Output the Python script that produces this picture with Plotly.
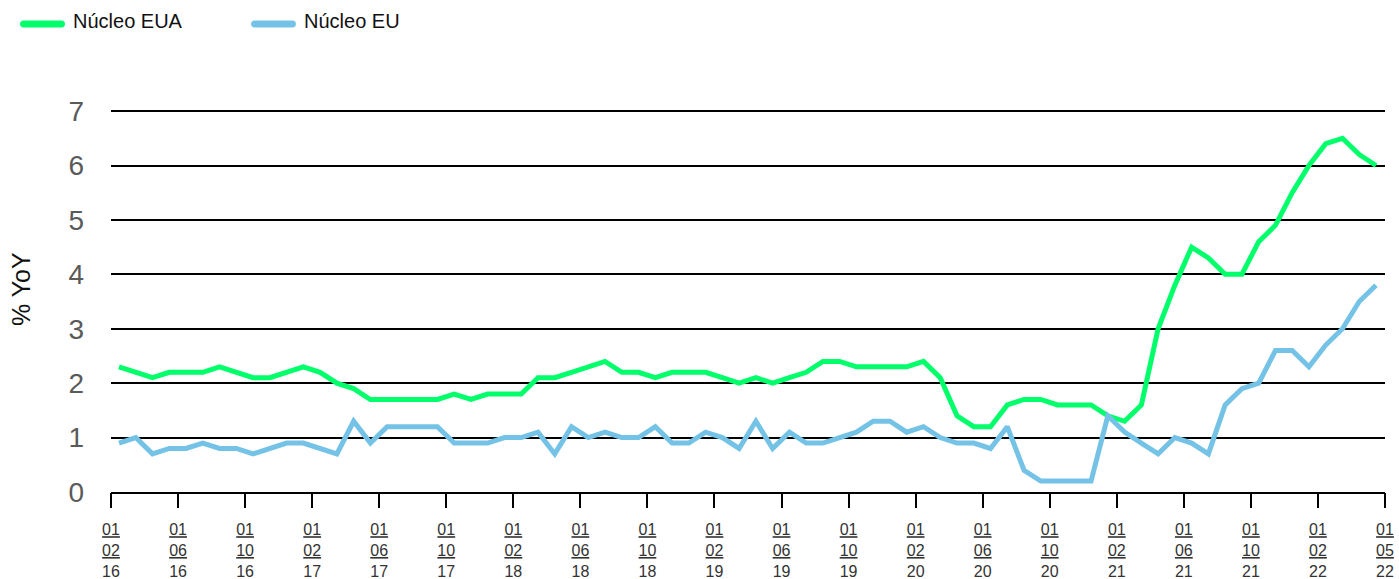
import pandas as pd
import plotly.graph_objects as go

# ---- data -------------------------------------------------------------
months = pd.date_range("2016-02-01", periods=76, freq="MS").strftime("%Y-%m").tolist()

nucleo_eua = [
    2.3, 2.2, 2.1, 2.2, 2.2, 2.2, 2.3, 2.2, 2.1, 2.1, 2.2, 2.3, 2.2,
    2.0, 1.9, 1.7, 1.7, 1.7, 1.7, 1.7, 1.8, 1.7, 1.8, 1.8, 1.8,
    2.1, 2.1, 2.2, 2.3, 2.4, 2.2, 2.2, 2.1, 2.2, 2.2, 2.2, 2.1,
    2.0, 2.1, 2.0, 2.1, 2.2, 2.4, 2.4, 2.3, 2.3, 2.3, 2.3, 2.4,
    2.1, 1.4, 1.2, 1.2, 1.6, 1.7, 1.7, 1.6, 1.6, 1.6, 1.4, 1.3, 1.6,
    3.0, 3.8, 4.5, 4.3, 4.0, 4.0, 4.6, 4.9, 5.5, 6.0, 6.4, 6.5, 6.2, 6.0,
]

nucleo_eu = [
    0.9, 1.0, 0.7, 0.8, 0.8, 0.9, 0.8, 0.8, 0.7, 0.8, 0.9, 0.9, 0.8,
    0.7, 1.3, 0.9, 1.2, 1.2, 1.2, 1.2, 0.9, 0.9, 0.9, 1.0, 1.0,
    1.1, 0.7, 1.2, 1.0, 1.1, 1.0, 1.0, 1.2, 0.9, 0.9, 1.1, 1.0,
    0.8, 1.3, 0.8, 1.1, 0.9, 0.9, 1.0, 1.1, 1.3, 1.3, 1.1, 1.2,
    1.0, 0.9, 0.9, 0.8, 1.2, 0.4, 0.2, 0.2, 0.2, 0.2, 1.4, 1.1, 0.9,
    0.7, 1.0, 0.9, 0.7, 1.6, 1.9, 2.0, 2.6, 2.6, 2.3, 2.7, 3.0, 3.5, 3.8,
]

tick_labels = [
    "01/02/16", "01/06/16", "01/10/16",
    "01/02/17", "01/06/17", "01/10/17",
    "01/02/18", "01/06/18", "01/10/18",
    "01/02/19", "01/06/19", "01/10/19",
    "01/02/20", "01/06/20", "01/10/20",
    "01/02/21", "01/06/21", "01/10/21",
    "01/02/22", "01/05/22",
]

y_ticks = [0, 1, 2, 3, 4, 5, 6, 7]

series_names = ["Núcleo EUA", "Núcleo EU"]
series_colors = ["#00ff6a", "#74c3e7"]

# ---- layout geometry (pixels) ----------------------------------------
W, H = 1399, 579
L, R = 111, 1385
T, B = 110, 492
pw, ph = R - L, B - T


def px_x(p):
    return (p - L) / pw


def px_y(p):
    return (B - p) / ph


fig = go.Figure()
for name, vals, col in zip(series_names, [nucleo_eua, nucleo_eu], series_colors):
    fig.add_trace(go.Scatter(
        x=months, y=vals, mode="lines", name=name,
        line=dict(color=col, width=5, shape="linear"),
        showlegend=False,
        hovertemplate="%{x}: %{y}<extra>" + name + "</extra>",
    ))

# empty trace that only hosts the overlaid tick axis
fig.add_trace(go.Scatter(x=[], y=[], xaxis="x2", yaxis="y",
                         showlegend=False, hoverinfo="skip"))

fmt_ticks = []
for t in tick_labels:
    d, m, y = t.split("/")
    fmt_ticks.append(f"<u>{d}</u><br><u>{m}</u><br>{y}")

fig.update_layout(
    width=W, height=H,
    margin=dict(l=L, r=W - R, t=T, b=H - B, autoexpand=False),
    paper_bgcolor="white", plot_bgcolor="white",
    showlegend=False,
    xaxis=dict(
        type="category",
        range=[-0.477, 75.537],
        showgrid=False, zeroline=False,
        showticklabels=False, ticks="",
        showline=True, linecolor="black", linewidth=2,
        automargin=False,
    ),
    xaxis2=dict(
        overlaying="x", anchor="y", side="bottom",
        type="linear",
        range=[0, len(tick_labels) - 1],
        tickmode="array",
        tickvals=list(range(len(tick_labels))),
        ticktext=fmt_ticks,
        ticks="outside", ticklen=15, tickwidth=2, tickcolor="black",
        showgrid=False, zeroline=False, showline=False,
        tickfont=dict(family="Liberation Sans", size=16, color="#333333"),
        tickangle=0,
        ticklabelstandoff=8,
        automargin=False,
    ),
    yaxis=dict(
        range=[0, 7.02],
        tickmode="array", tickvals=y_ticks,
        showgrid=True, gridcolor="black", gridwidth=1.5,
        zeroline=False, showline=False, ticks="",
        ticklabelstandoff=26,
        tickfont=dict(family="Liberation Sans", size=28, color="#5a5a5a"),
        automargin=False,
    ),
)

# y-axis title
fig.add_annotation(
    text="% YoY", xref="paper", yref="paper",
    x=px_x(21), y=px_y(289), xanchor="center", yanchor="middle",
    textangle=-90, showarrow=False,
    font=dict(family="Liberation Sans", size=25, color="#111111"),
)

# custom legend (rounded swatches + labels)
legend_items = [(20, 71), (251, 302)]
swatch_len = 45
r = 3.5
k = 4.67
path = (f"M{r},{-r} L{swatch_len - r},{-r} "
        f"C{swatch_len - r + k},{-r} {swatch_len - r + k},{r} {swatch_len - r},{r} "
        f"L{r},{r} C{r - k},{r} {r - k},{-r} {r},{-r} Z")
for (sx, tx), name, col in zip(legend_items, series_names, series_colors):
    fig.add_shape(
        type="path", path=path,
        xref="paper", yref="paper",
        xsizemode="pixel", ysizemode="pixel",
        xanchor=px_x(sx), yanchor=px_y(24),
        fillcolor=col, line=dict(width=0),
    )
    fig.add_annotation(
        text=name, xref="paper", yref="paper",
        x=px_x(tx), y=px_y(21), xanchor="left", yanchor="middle",
        showarrow=False,
        font=dict(family="Liberation Sans", size=20, color="#111111"),
    )

fig.write_html("out.html")
